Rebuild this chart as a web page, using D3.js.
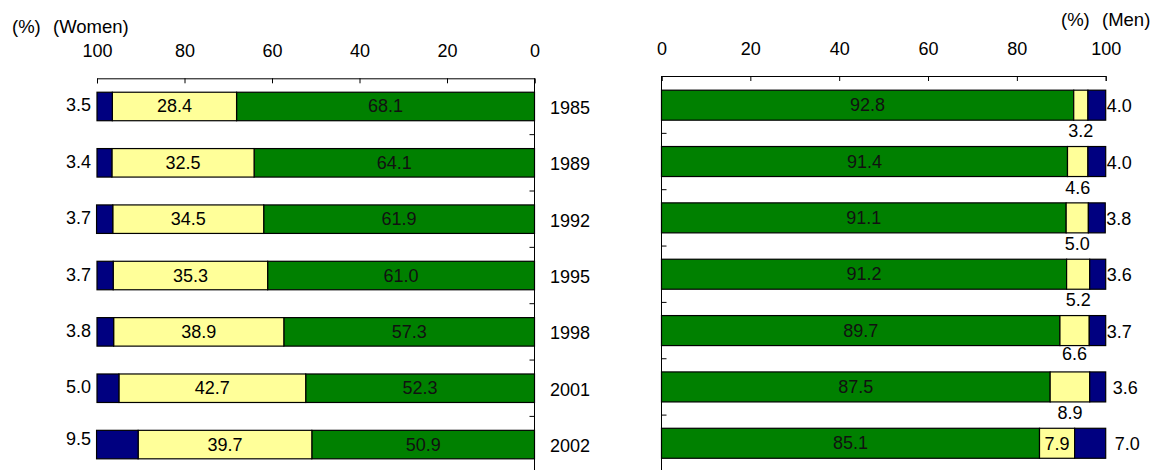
<!DOCTYPE html>
<html>
<head>
<meta charset="utf-8">
<script src="https://cdn.jsdelivr.net/npm/d3@7/dist/d3.min.js"></script>
<style>
html,body{margin:0;padding:0;background:#fff;}
svg{display:block;}
text{font-family:"Liberation Sans",Arial,sans-serif;font-size:18px;fill:#000;}
</style>
</head>
<body>
<svg id="chart" width="1163" height="470"></svg>
<script>
// ---- data ----
const years = ["1985","1989","1992","1995","1998","2001","2002"];
const womenGreen  = [68.1,64.1,61.9,61.0,57.3,52.3,50.9];
const womenYellow = [28.4,32.5,34.5,35.3,38.9,42.7,39.7];
const womenNavy   = [3.5,3.4,3.7,3.7,3.8,5.0,9.5];
const menGreen    = [92.8,91.4,91.1,91.2,89.7,87.5,85.1];
const menYellow   = [3.2,4.6,5.0,5.2,6.6,8.9,7.9];
const menNavy     = [4.0,4.0,3.8,3.6,3.7,3.6,7.0];
const tickValues  = [0,20,40,60,80,100];

// ---- layout ----
const C = {green:"#008000", yellow:"#FFFF99", navy:"#000080"};
const svg = d3.select("#chart");
const step = 56.35;
const n = years.length;

const xL = d3.scaleLinear().domain([100,0]).range([97,534.5]);
const xR = d3.scaleLinear().domain([0,100]).range([661.5,1105.7]);
const yL = d3.scaleBand().domain(years).range([78.3,78.3+n*step]).paddingInner(1-28.5/step).paddingOuter((1-28.5/step)/2);
const yR = d3.scaleBand().domain(years).range([77,77+n*step]).paddingInner(1-30/step).paddingOuter((1-30/step)/2);

// label placement tweaks (layout only)
const womenNavyDy = [0,0,0,0,0,0,-5];
const menYellowDy = [0,0,0,0,-3,0,0];
const menYellowInside = [false,false,false,false,false,false,true];
const menNavyDx   = [1,1,1,1,1,7,9];

function stack(g,y,n){ return [
  {k:"green", v:g, x0:0, x1:g},
  {k:"yellow", v:y, x0:g, x1:g+y},
  {k:"navy", v:n, x0:g+y, x1:g+y+n}
];}

// ---- left panel (Women) ----
const gL = svg.append("g");
years.forEach((yr,i)=>{
  const segs = stack(womenGreen[i],womenYellow[i],womenNavy[i]);
  const top = yL(yr), h = yL.bandwidth(), cy = top+h/2;
  segs.forEach(s=>{
    gL.append("rect").attr("x",xL(s.x1)).attr("y",top)
      .attr("width",xL(s.x0)-xL(s.x1)).attr("height",h)
      .attr("fill",C[s.k]).attr("stroke","#000").attr("stroke-width",1.2);
  });
  gL.append("text").attr("x",(xL(segs[0].x0)+xL(segs[0].x1))/2).attr("y",cy+6).attr("text-anchor","middle").style("fill","#111").text(womenGreen[i].toFixed(1));
  gL.append("text").attr("x",(xL(segs[1].x0)+xL(segs[1].x1))/2).attr("y",cy+6).attr("text-anchor","middle").text(womenYellow[i].toFixed(1));
  gL.append("text").attr("x",xL(100)-6).attr("y",cy+5+womenNavyDy[i]).attr("text-anchor","end").text(womenNavy[i].toFixed(1));
  gL.append("text").attr("x",550).attr("y",cy+7.5).attr("text-anchor","start").text(yr);
});
const axL = gL.append("g").attr("transform","translate(0,78.3)")
  .call(d3.axisTop(xL).tickValues(tickValues).tickSize(-5).tickSizeOuter(-5).tickPadding(21).tickFormat(d3.format("d")));
axL.select(".domain").attr("stroke","#000");
axL.selectAll("text").style("font-size","18px").attr("font-family",null);
gL.append("line").attr("x1",xL(0)).attr("x2",xL(0)).attr("y1",78.3).attr("y2",480).attr("stroke","#000");
for(let i=1;i<=n;i++){
  const yy = yL.range()[0]+i*yL.step();
  gL.append("line").attr("x1",xL(0)-5).attr("x2",xL(0)).attr("y1",yy).attr("y2",yy).attr("stroke","#000");
}
svg.append("text").attr("x",12).attr("y",33).style("font-size","18.5px").text("(%)");
svg.append("text").attr("x",53).attr("y",33).style("font-size","18.5px").text("(Women)");

// ---- right panel (Men) ----
const gR = svg.append("g");
years.forEach((yr,i)=>{
  const segs = stack(menGreen[i],menYellow[i],menNavy[i]);
  const top = yR(yr), h = yR.bandwidth(), cy = top+h/2;
  segs.forEach(s=>{
    gR.append("rect").attr("x",xR(s.x0)).attr("y",top)
      .attr("width",xR(s.x1)-xR(s.x0)).attr("height",h)
      .attr("fill",C[s.k]).attr("stroke","#000").attr("stroke-width",1.2);
  });
  gR.append("text").attr("x",(xR(segs[0].x0)+xR(segs[0].x1))/2).attr("y",cy+6).attr("text-anchor","middle").style("fill","#111").text(menGreen[i].toFixed(1));
  gR.append("text").attr("x",(xR(segs[1].x0)+xR(segs[1].x1))/2)
    .attr("y", menYellowInside[i] ? cy+7 : top+h+17+menYellowDy[i]).attr("text-anchor","middle").text(menYellow[i].toFixed(1));
  gR.append("text").attr("x",xR(segs[2].x1)+menNavyDx[i]).attr("y",cy+7).attr("text-anchor","start").text(menNavy[i].toFixed(1));
});
const axR = gR.append("g").attr("transform","translate(0,76)")
  .call(d3.axisTop(xR).tickValues(tickValues).tickSize(-5).tickSizeOuter(-5).tickPadding(21).tickFormat(d3.format("d")));
axR.select(".domain").attr("stroke","#000");
axR.selectAll("text").style("font-size","18px").attr("font-family",null);
gR.append("line").attr("x1",xR(0)).attr("x2",xR(0)).attr("y1",76).attr("y2",480).attr("stroke","#000");
for(let i=1;i<=n;i++){
  const yy = yR.range()[0]+i*yR.step();
  gR.append("line").attr("x1",xR(0)).attr("x2",xR(0)+5).attr("y1",yy).attr("y2",yy).attr("stroke","#000");
}
svg.append("text").attr("x",1061).attr("y",26).style("font-size","18.5px").text("(%)");
svg.append("text").attr("x",1102).attr("y",26).style("font-size","18.5px").text("(Men)");
</script>
</body>
</html>
